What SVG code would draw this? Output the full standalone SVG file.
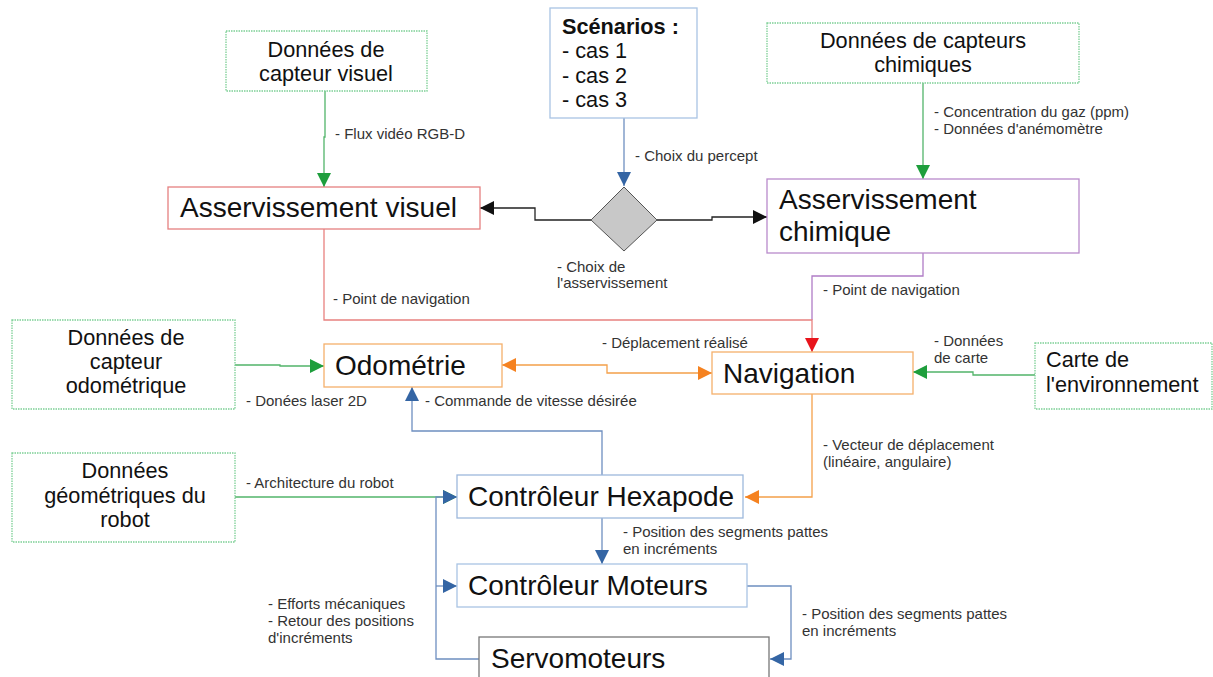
<svg xmlns="http://www.w3.org/2000/svg" width="1213" height="677" viewBox="0 0 1213 677">
<defs>
<style>
text{font-family:"Liberation Sans",Arial,sans-serif;fill:#111}
.big{font-size:28px}
.mid{font-size:21.7px}
.lbl{font-size:15px;fill:#333}
.c{text-anchor:middle}
.src{fill:#fff;stroke:#7ccf95;stroke-width:1.3;stroke-dasharray:1.5 1}
.box{fill:#fff;stroke-width:1.3}
.ln{fill:none;stroke-width:1.3}
.g{stroke:#52b46a}.r{stroke:#e8817f}.b{stroke:#6e8fc0}.o{stroke:#f4a04a}.p{stroke:#b07cc6}.k{stroke:#222}
</style>
<marker id="ag" markerUnits="userSpaceOnUse" markerWidth="16" markerHeight="14" refX="14" refY="7" orient="auto"><path d="M0,0L14,7L0,14z" fill="#1e9e3c"/></marker>
<marker id="ab" markerUnits="userSpaceOnUse" markerWidth="16" markerHeight="14" refX="14" refY="7" orient="auto"><path d="M0,0L14,7L0,14z" fill="#3465a4"/></marker>
<marker id="ar" markerUnits="userSpaceOnUse" markerWidth="16" markerHeight="14" refX="14" refY="7" orient="auto"><path d="M0,0L14,7L0,14z" fill="#e8141c"/></marker>
<marker id="ao" markerUnits="userSpaceOnUse" markerWidth="16" markerHeight="14" refX="14" refY="7" orient="auto-start-reverse"><path d="M0,0L14,7L0,14z" fill="#f58220"/></marker>
<marker id="ak" markerUnits="userSpaceOnUse" markerWidth="16" markerHeight="14" refX="14" refY="7" orient="auto"><path d="M0,0L14,7L0,14z" fill="#111"/></marker>
</defs>
<rect width="1213" height="677" fill="#fff"/>

<g id="connectors">
<path class="ln g" d="M325,91V137H324V187" marker-end="url(#ag)"/>
<path class="ln b" d="M624,118V186" marker-end="url(#ab)"/>
<path class="ln k" d="M591,220H535V208H480" marker-end="url(#ak)"/>
<path class="ln k" d="M657,220H712V217H767" marker-end="url(#ak)"/>
<path class="ln g" d="M923,83V179" marker-end="url(#ag)"/>
<path class="ln p" d="M923,253V276H812V320"/>
<path class="ln r" d="M324,229V320H812V352" marker-end="url(#ar)"/>
<path class="ln o" d="M502,365H607V373H712" marker-start="url(#ao)" marker-end="url(#ao)"/>
<path class="ln g" d="M235,365H280V366H324" marker-end="url(#ag)"/>
<path class="ln g" d="M1035,375H973V372H913" marker-end="url(#ag)"/>
<path class="ln b" d="M602,475V431H412V387" marker-end="url(#ab)"/>
<path class="ln g" d="M235,497H457" marker-end="url(#ag)"/>
<path class="ln o" d="M812,394V497H745" marker-end="url(#ao)"/>
<path class="ln b" d="M602,518V564" marker-end="url(#ab)"/>
<path class="ln b" d="M747,586H791V659H770" marker-end="url(#ab)"/>
<path class="ln b" d="M479,659H436V497H457" marker-end="url(#ab)"/>
<path class="ln b" d="M436,586H457" marker-end="url(#ab)"/>
<text class="lbl" x="335" y="139">- Flux vidéo RGB-D</text>
<text class="lbl" x="635" y="161">- Choix du percept</text>
<text class="lbl" x="557" y="272">- Choix de</text>
<text class="lbl" x="557" y="288">l'asservissement</text>
<text class="lbl" x="934" y="117">- Concentration du gaz (ppm)</text>
<text class="lbl" x="934" y="134">- Données d'anémomètre</text>
<text class="lbl" x="823" y="295">- Point de navigation</text>
<text class="lbl" x="333" y="304">- Point de navigation</text>
<text class="lbl" x="602" y="348">- Déplacement réalisé</text>
<text class="lbl" x="934" y="346">- Données</text>
<text class="lbl" x="934" y="363">de carte</text>
<text class="lbl" x="246" y="406">- Donées laser 2D</text>
<text class="lbl" x="425" y="406">- Commande de vitesse désirée</text>
<text class="lbl" x="823" y="450">- Vecteur de déplacement</text>
<text class="lbl" x="823" y="467">(linéaire, angulaire)</text>
<text class="lbl" x="246" y="488">- Architecture du robot</text>
<text class="lbl" x="623" y="537">- Position des segments pattes</text>
<text class="lbl" x="623" y="554">en incréments</text>
<text class="lbl" x="268" y="609">- Efforts mécaniques</text>
<text class="lbl" x="268" y="626">- Retour des positions</text>
<text class="lbl" x="268" y="643">d'incréments</text>
<text class="lbl" x="802" y="619">- Position des segments pattes</text>
<text class="lbl" x="802" y="636">en incréments</text>
</g>

<g id="capteur-visuel">
<rect class="src" x="226" y="31" width="201" height="60"/>
<text class="mid c" x="326" y="57">Données de</text>
<text class="mid c" x="326" y="81">capteur visuel</text>
</g>

<g id="asservissement-visuel">
<rect class="box" x="168" y="187" width="312" height="42" stroke="#e58080"/>
<text class="big" x="180" y="217">Asservissement visuel</text>
</g>

<g id="scenarios">
<rect class="box" x="550" y="8" width="147" height="110" stroke="#a9c4e4"/>
<text class="mid" x="562" y="34" font-weight="bold">Scénarios :</text>
<text class="mid" x="562" y="58">- cas 1</text>
<text class="mid" x="562" y="83">- cas 2</text>
<text class="mid" x="562" y="107">- cas 3</text>
</g>

<g id="choix">
<path d="M624,187L657,220L624,251L591,220z" fill="#c8c8c8" stroke="#555" stroke-width="1"/>
</g>

<g id="capteurs-chimiques">
<rect class="src" x="767" y="23" width="312" height="60"/>
<text class="mid c" x="923" y="48">Données de capteurs</text>
<text class="mid c" x="923" y="72">chimiques</text>
</g>

<g id="asservissement-chimique">
<rect class="box" x="767" y="179" width="312" height="74" stroke="#b98acb"/>
<text class="big" x="779" y="209">Asservissement</text>
<text class="big" x="779" y="241">chimique</text>
</g>

<g id="capteur-odometrique">
<rect class="src" x="12" y="320" width="223" height="89"/>
<text class="mid c" x="126" y="345">Données de</text>
<text class="mid c" x="126" y="369">capteur</text>
<text class="mid c" x="126" y="393">odométrique</text>
</g>

<g id="odometrie">
<rect class="box" x="324" y="344" width="178" height="43" stroke="#f5b06b"/>
<text class="big" x="335" y="375">Odométrie</text>
</g>

<g id="navigation">
<rect class="box" x="712" y="352" width="201" height="42" stroke="#f5b06b"/>
<text class="big" x="723" y="383">Navigation</text>
</g>

<g id="carte">
<rect class="src" x="1035" y="343" width="177" height="66"/>
<text class="mid" x="1046" y="367">Carte de</text>
<text class="mid" x="1046" y="392">l'environnement</text>
</g>

<g id="geometrie">
<rect class="src" x="12" y="453" width="223" height="89"/>
<text class="mid c" x="125" y="478">Données</text>
<text class="mid c" x="125" y="503">géométriques du</text>
<text class="mid c" x="125" y="527">robot</text>
</g>

<g id="controleur-hexapode">
<rect class="box" x="457" y="475" width="286" height="43" stroke="#9db8dc"/>
<text class="big" x="468" y="506">Contrôleur Hexapode</text>
</g>

<g id="controleur-moteurs">
<rect class="box" x="457" y="564" width="290" height="43" stroke="#a9c4e4"/>
<text class="big" x="468" y="595">Contrôleur Moteurs</text>
</g>

<g id="servomoteurs">
<rect class="box" x="479" y="637" width="290" height="60" stroke="#777"/>
<text class="big" x="491" y="668">Servomoteurs</text>
</g>
</svg>
